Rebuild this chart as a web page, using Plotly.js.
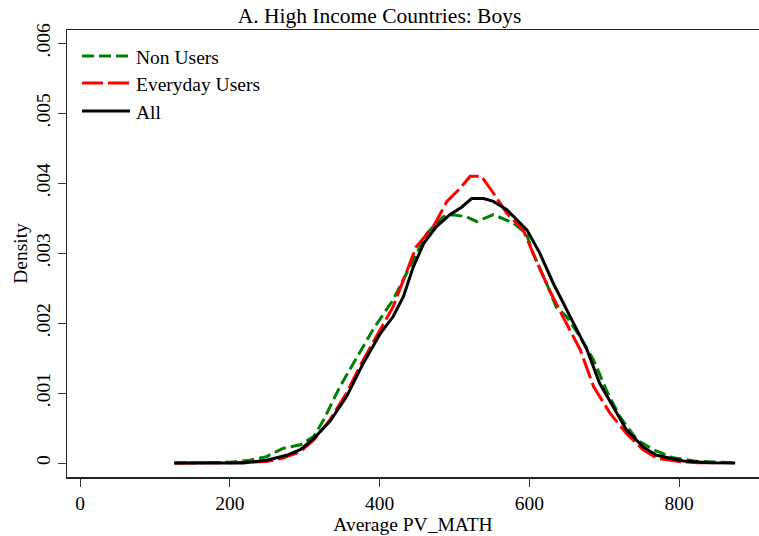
<!DOCTYPE html>
<html>
<head>
<meta charset="utf-8">
<script src="https://cdn.plot.ly/plotly-3.0.1.min.js"></script>
<style>html,body{margin:0;padding:0;background:#fff;}</style>
</head>
<body>
<div id="chart" style="width:759px;height:536px;"></div>
<script>
// Non Users
const nonX = [126,160,200,227,249,271,294,312,325,347,370,392,418,445,463,485,498,516,530,552,579,596,605,623,636,650,668,686,703,721,744,766,790,820,850,875];
const nonY = [0,0,0.00001,0.00004,0.00009,0.00021,0.00026,0.00038,0.00061,0.00109,0.00152,0.00192,0.00233,0.0029,0.00328,0.00352,0.00355,0.00352,0.00345,0.00355,0.00343,0.00328,0.003,0.00257,0.00223,0.00209,0.0018,0.00147,0.00104,0.00066,0.00033,0.00019,0.00008,0.00003,0.00001,0];
// Everyday Users
const evX = [126,160,200,249,271,294,312,334,356,378,401,418,432,449,472,490,507,521,536,552,570,592,609,627,645,668,686,708,730,752,770,800,825,845];
const evY = [0,0,0.000005,0.00002,0.00007,0.00016,0.00033,0.00062,0.001,0.00147,0.0019,0.00223,0.00262,0.00309,0.00338,0.00374,0.00392,0.0041,0.0041,0.00386,0.00357,0.00333,0.0029,0.00247,0.00209,0.00162,0.00109,0.00071,0.00042,0.00019,0.00007,0.00002,0.000005,0];
// All
const allX = [126,160,218,249,276,294,312,334,356,378,401,418,432,445,459,476,494,510,523,539,552,570,597,614,632,659,677,694,712,730,752,770,806,840,875];
const allY = [0,0,0,0.00004,0.00011,0.00019,0.00035,0.0006,0.00095,0.00142,0.00185,0.00209,0.00238,0.0028,0.00314,0.00338,0.00355,0.00366,0.00378,0.00378,0.00374,0.00362,0.00333,0.003,0.00257,0.002,0.00162,0.00114,0.0008,0.00047,0.00023,0.00011,0.00003,0.000005,0];

const seriesNames = ["Non Users", "Everyday Users", "All"];
const xTicks = [0,200,400,600,800];
const yTicks = [0,0.001,0.002,0.003,0.004,0.005,0.006];
const yTickText = ["0",".001",".002",".003",".004",".005",".006"];

const serif = "Liberation Serif, Times New Roman, serif";
const styles = [
  {color: "#008000", width: 3, dash: "12px,5px"},
  {color: "#ff0000", width: 3, dash: "21px,5px"},
  {color: "#000000", width: 3, dash: "solid"}
];
const series = [[nonX, nonY], [evX, evY], [allX, allY]];

const traces = series.map((s, i) => ({
  x: s[0], y: s[1], name: seriesNames[i], mode: "lines", type: "scatter",
  line: styles[i], showlegend: false
}));

// legend drawn in paper coordinates (plot area: 67..759 px wide, 30..477 px tall)
const legY = [0.9418, 0.8814, 0.8188];
const shapes = legY.map((yy, i) => ({
  type: "line", xref: "paper", yref: "paper", x0: 0.0217, x1: 0.0910, y0: yy, y1: yy,
  line: styles[i]
}));
const annotations = legY.map((yy, i) => ({
  xref: "paper", yref: "paper", x: 0.0968, y: yy - 0.004, xanchor: "left", yanchor: "middle",
  text: seriesNames[i], showarrow: false, font: {family: serif, size: 19.5, color: "#000"}
}));

const layout = {
  width: 759, height: 536,
  margin: {l: 67, r: 0, t: 30, b: 59},
  paper_bgcolor: "#fff", plot_bgcolor: "#fff",
  font: {family: serif, size: 19.5, color: "#000"},
  title: {text: "A. High Income Countries: Boys", font: {family: serif, size: 21.5, color: "#000"},
          x: 0.5, xref: "container", y: 0.972, yref: "container", yanchor: "middle"},
  showlegend: false,
  shapes: shapes,
  annotations: annotations,
  xaxis: {
    range: [-17.4, 906.8], tickvals: xTicks, ticks: "outside", ticklen: 8, tickwidth: 1, tickcolor: "#333",
    showline: true, linecolor: "#222", linewidth: 1.5, mirror: true,
    showgrid: false, zeroline: false, tickfont: {family: serif, size: 19.5},
    title: {text: "Average PV_MATH", font: {family: serif, size: 19.5}, standoff: 2}
  },
  yaxis: {
    range: [-0.0002, 0.00619], tickvals: yTicks, ticktext: yTickText, tickangle: -90,
    ticks: "outside", ticklen: 8, tickwidth: 1, tickcolor: "#333",
    showline: true, linecolor: "#222", linewidth: 1.5, mirror: false,
    showgrid: false, zeroline: false, tickfont: {family: serif, size: 19.5},
    title: {text: "Density", font: {family: serif, size: 19.5}, standoff: 0}
  }
};

Plotly.newPlot("chart", traces, layout, {displayModeBar: false, staticPlot: true});
</script>
</body>
</html>
